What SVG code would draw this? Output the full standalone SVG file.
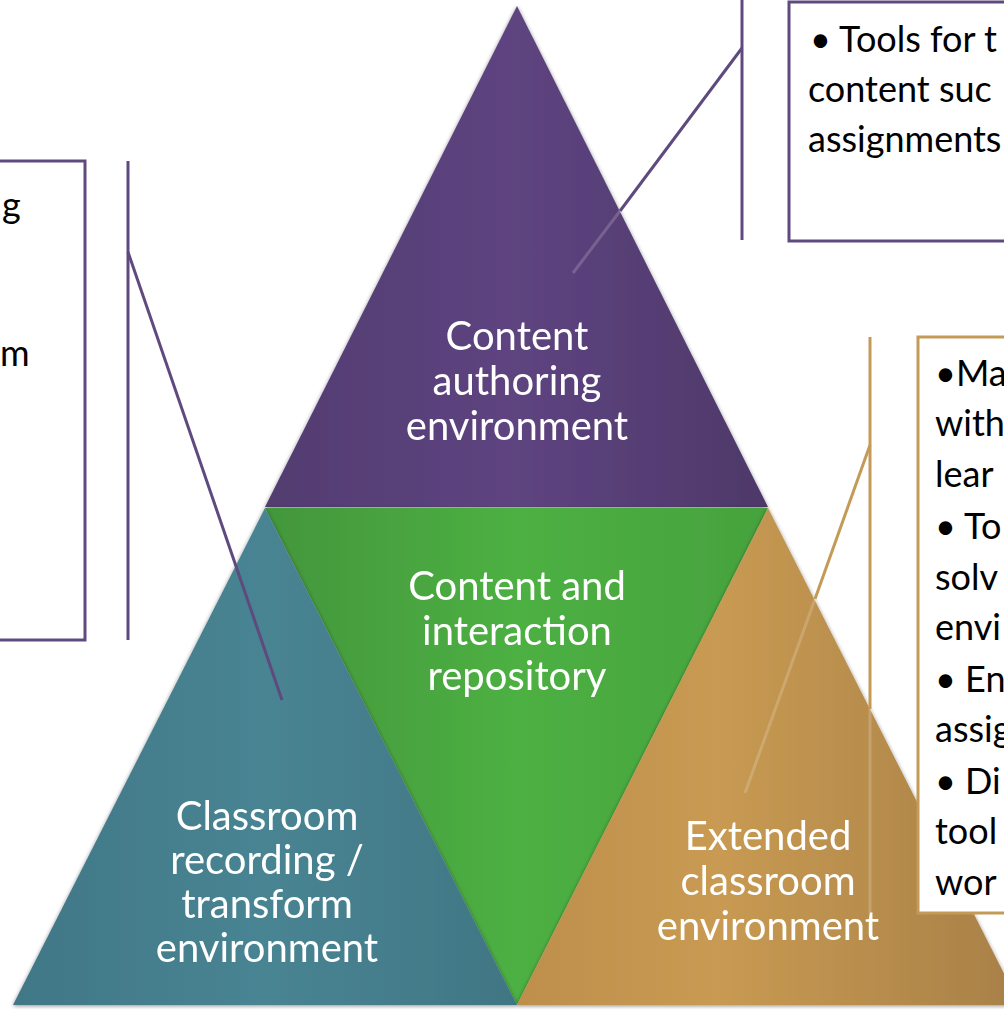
<svg xmlns="http://www.w3.org/2000/svg" width="1004" height="1009" viewBox="0 0 1004 1009">
<style>
.lbl{font-family:Lato,"Open Sans","Liberation Sans",sans-serif;font-size:40px;fill:#ffffff;text-anchor:middle}
.co{font-family:Lato,"Open Sans","Liberation Sans",sans-serif;font-size:36px;fill:#000000}
.pb{fill:#ffffff;stroke:#5E4A7E;stroke-width:3}
.gb{fill:#ffffff;stroke:#C49A58;stroke-width:3}
.pl{stroke:#5E4A7E;stroke-width:3;fill:none}
.gl{stroke:#C49A58;stroke-width:3;fill:none}
.faint{stroke:#ffffff;stroke-opacity:0.18;stroke-width:3;fill:none}
</style>
<defs>
<linearGradient id="gP" x1="0" y1="0" x2="1" y2="0">
<stop offset="0" stop-color="#523C70"/><stop offset="0.5" stop-color="#5E4480"/><stop offset="1" stop-color="#4E3869"/>
</linearGradient>
<linearGradient id="gG" x1="0" y1="0" x2="1" y2="0">
<stop offset="0" stop-color="#43963B"/><stop offset="0.5" stop-color="#4DB043"/><stop offset="1" stop-color="#46A23D"/>
</linearGradient>
<linearGradient id="gT" x1="0" y1="0" x2="1" y2="0">
<stop offset="0" stop-color="#417786"/><stop offset="0.5" stop-color="#488493"/><stop offset="1" stop-color="#417684"/>
</linearGradient>
<linearGradient id="gO" x1="0" y1="0" x2="1" y2="0">
<stop offset="0" stop-color="#BE8F4C"/><stop offset="0.4" stop-color="#C89A52"/><stop offset="1" stop-color="#A88048"/>
</linearGradient>
<filter id="sh" x="-10%" y="-10%" width="120%" height="120%">
<feGaussianBlur in="SourceAlpha" stdDeviation="2"/>
<feOffset dx="0" dy="1" result="b"/>
<feComponentTransfer><feFuncA type="linear" slope="0.45"/></feComponentTransfer>
<feMerge><feMergeNode/><feMergeNode in="SourceGraphic"/></feMerge>
</filter>
</defs>

<g id="callout-left">
<rect class="pb" x="-10" y="161" width="95" height="479"/>
<text class="co" x="2" y="218">g</text>
<text class="co" x="0" y="366">m</text>
</g>

<g id="node-content-authoring" filter="url(#sh)">
<polygon points="517,6 768,507 265,507" fill="url(#gP)"/>
<text class="lbl" x="517" y="350">Content</text>
<text class="lbl" x="517" y="395">authoring</text>
<text class="lbl" x="517" y="440">environment</text>
</g>

<g id="node-repository" filter="url(#sh)">
<polygon points="265,508 768,508 517,1005" fill="url(#gG)"/>
<text class="lbl" x="517" y="600">Content and</text>
<text class="lbl" x="517" y="645">interaction</text>
<text class="lbl" x="517" y="690">repository</text>
</g>

<g id="node-classroom" filter="url(#sh)">
<polygon points="265,508 517,1005 13,1005" fill="url(#gT)"/>
<text class="lbl" x="267" y="830">Classroom</text>
<text class="lbl" x="267" y="874">recording /</text>
<text class="lbl" x="267" y="918">transform</text>
<text class="lbl" x="267" y="962">environment</text>
</g>

<g id="node-extended" filter="url(#sh)">
<polygon points="768,508 1020,1005 517,1005" fill="url(#gO)"/>
<text class="lbl" x="768" y="850">Extended</text>
<text class="lbl" x="768" y="895">classroom</text>
<text class="lbl" x="768" y="940">environment</text>
</g>

<g id="connectors">
<line class="pl" x1="742" y1="0" x2="742" y2="240"/>
<line class="pl" x1="742" y1="48" x2="620" y2="211"/>
<line class="faint" x1="620" y1="211" x2="573" y2="273"/>
<line class="pl" x1="128" y1="161" x2="128" y2="640"/>
<line class="pl" x1="128" y1="252" x2="282" y2="700"/>
<line class="gl" x1="870" y1="337" x2="870" y2="709"/>
<line class="faint" x1="870" y1="709" x2="870" y2="913"/>
<line class="gl" x1="870" y1="445" x2="815" y2="599"/>
<line class="faint" x1="815" y1="599" x2="745" y2="793"/>
</g>

<g id="callout-top">
<rect class="pb" x="789" y="2" width="230" height="239"/>
<text class="co" x="810" y="52">• Tools for t</text>
<text class="co" x="808" y="102">content suc</text>
<text class="co" x="808" y="152">assignments</text>
</g>

<g id="callout-right">
<rect class="gb" x="918" y="337" width="100" height="576"/>
<text class="co" x="935" y="386">•Ma</text>
<text class="co" x="935" y="436">with</text>
<text class="co" x="935" y="487">lear</text>
<text class="co" x="935" y="539">•  To</text>
<text class="co" x="935" y="590">solv</text>
<text class="co" x="935" y="640">envi</text>
<text class="co" x="935" y="692">• En</text>
<text class="co" x="935" y="742">assig</text>
<text class="co" x="935" y="794">• Di</text>
<text class="co" x="935" y="844">tool</text>
<text class="co" x="935" y="895">wor</text>
</g>
</svg>
